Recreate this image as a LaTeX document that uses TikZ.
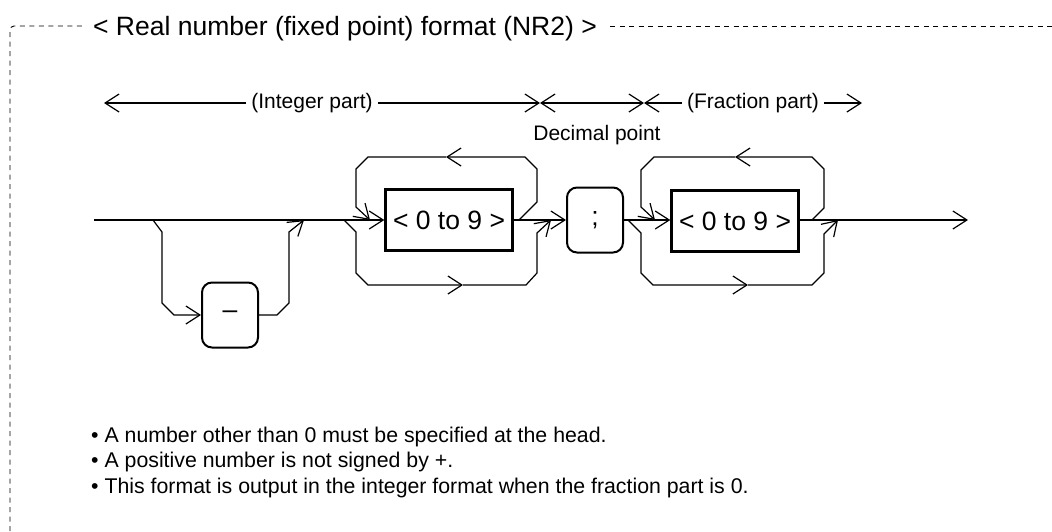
\documentclass[tikz,border=0pt]{standalone}
\usepackage{fontspec}
\setmainfont{Liberation Sans}
\usetikzlibrary{arrows.meta}
\begin{document}
\begin{tikzpicture}[x=1pt,y=-1pt,
  line/.style={line width=1.2pt},
  tip/.style={-{Straight Barb[length=14pt,width=18pt]}},
  both/.style={{Straight Barb[length=14pt,width=18pt]}-{Straight Barb[length=14pt,width=18pt]}},
  frame/.style={line width=0.9pt,dash pattern=on 5pt off 4.5pt},
  numbox/.style={draw,line width=2.4pt,minimum width=127pt,minimum height=61pt,inner sep=0pt,font=\fontsize{26.5}{30}\selectfont},
  rbox/.style={draw,line width=2pt,rounded corners=10pt,minimum width=56pt,minimum height=65pt,inner sep=0pt,font=\fontsize{26.5}{30}\selectfont},
  lab/.style={inner xsep=5pt,inner ysep=3pt,font=\fontsize{21}{25}\selectfont},
  note/.style={anchor=base west,inner sep=0pt,font=\fontsize{21.3}{25}\selectfont}
]
\useasboundingbox (0,0) rectangle (1052,531);
% frame
\node[anchor=base,inner sep=0pt,font=\fontsize{26.5}{30}\selectfont] (title) at (345,35) {< Real number (fixed point) format (NR2) >};
\coordinate (fbl) at (10,531);
\coordinate (ftl) at (82,26);
\coordinate (ftr) at (610,26);
\coordinate (fre) at (1052,26);
\draw[frame,rounded corners=4pt] (fbl) -- (10,26) -- (ftl);
\draw[frame] (ftr) -- (fre);
% top row
\node[lab] (ip) at (312,103) {(Integer part)};
\node[lab] (fp) at (753,103) {(Fraction part)};
\coordinate (ipL) at (104,103);
\coordinate (dpL) at (540,103);
\coordinate (dpR) at (644,103);
\coordinate (fpR) at (862,103);
\draw[line,tip] (ip.west) -- (ipL);
\draw[line,tip] (ip.east) -- (dpL);
\draw[line,both] (dpL) -- (dpR);
\draw[line,tip] (fp.west) -- (dpR);
\draw[line,tip] (fp.east) -- (fpR);
\node[inner sep=0pt,font=\fontsize{21}{25}\selectfont] (dp) at (597,135) {Decimal point};
% main row
\node[numbox] (b1) at (449,220) {< 0 to 9 >};
\node[rbox] (semi) at (595,220) {;};
\node[numbox] (b2) at (735,221) {< 0 to 9 >};
\node[rbox] (minus) at (230,315) {–};
\coordinate (start) at (94,220);
\coordinate (fin) at (968,220);
\draw[line,tip] (start) -- (b1.west);
\draw[line,tip] (b1.east) -- (semi.west);
\draw[line,tip] (semi.east) -- (b2.west |- semi.east);
\draw[line,tip] (b2.east |- semi.east) -- (fin);
% minus branch
\coordinate (m1) at (153,220);
\coordinate (m2) at (304,220);
\draw[line,tip] (m1) -- ++(9,12) -- ++(0,71) -- ++(12,12) -- (minus.west);
\draw[line,tip] (minus.east) -- (277,315) -- ++(12,-12) -- ++(0,-71) -- (m2);
% loops around box 1
\coordinate (L1s) at (519,220);
\coordinate (L1m) at (446,157);
\coordinate (L1e) at (370,220);
\draw[line,tip] (L1s) -- ++(18,-18) -- ++(0,-33) -- ++(-12,-12) -- (L1m);
\draw[line,tip] (L1m) -- ++(-78,0) -- ++(-12,12) -- ++(0,38) -- (L1e);
\coordinate (B1s) at (344,220);
\coordinate (B1m) at (463,285);
\coordinate (B1e) at (551,220);
\draw[line,tip] (B1s) -- ++(12,12) -- ++(0,41) -- ++(12,12) -- (B1m);
\draw[line,tip] (B1m) -- ++(63,0) -- ++(11,-12) -- ++(0,-40) -- (B1e);
% loops around box 2
\coordinate (L2s) at (812,220);
\coordinate (L2m) at (735,157);
\coordinate (L2e) at (655,220);
\draw[line,tip] (L2s) -- ++(12,-12) -- ++(0,-39) -- ++(-12,-12) -- (L2m);
\draw[line,tip] (L2m) -- ++(-81,0) -- ++(-13,13) -- ++(0,37) -- (L2e);
\coordinate (B2s) at (628,220);
\coordinate (B2m) at (748,285);
\coordinate (B2e) at (838,220);
\draw[line,tip] (B2s) -- ++(13,13) -- ++(0,40) -- ++(12,12) -- (B2m);
\draw[line,tip] (B2m) -- ++(64,0) -- ++(12,-12) -- ++(0,-39) -- (B2e);
% notes
\node[note] (n1) at (91,442) {• A number other than 0 must be specified at the head.};
\node[note] (n2) at (91,467) {• A positive number is not signed by +.};
\node[note] (n3) at (91,493) {• This format is output in the integer format when the fraction part is 0.};
\end{tikzpicture}
\end{document}
